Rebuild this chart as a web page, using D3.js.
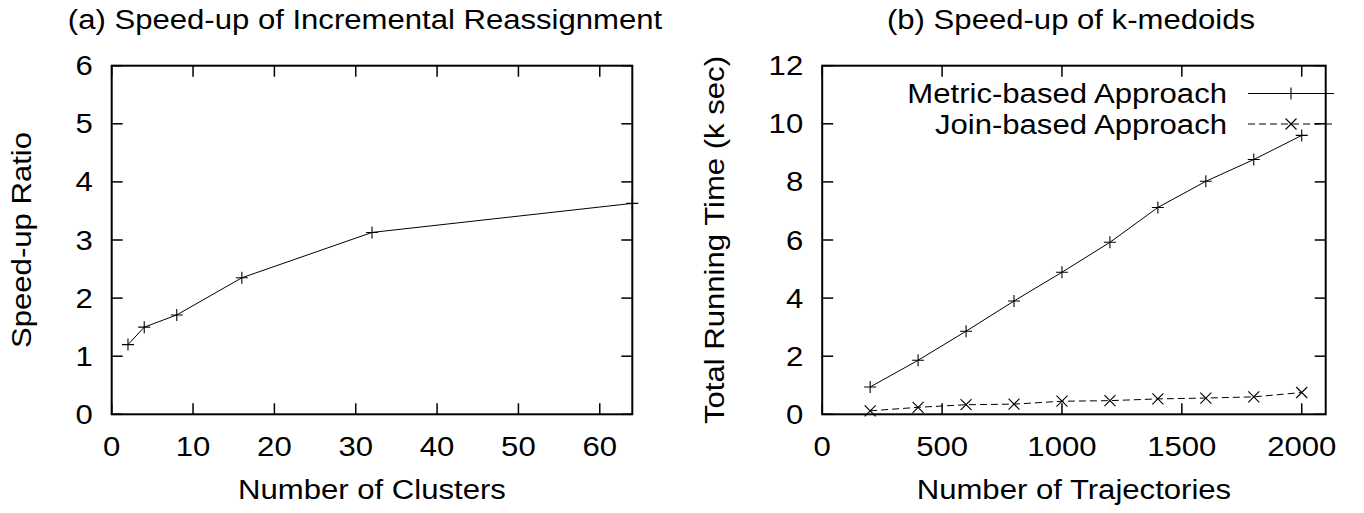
<!DOCTYPE html>
<html>
<head>
<meta charset="utf-8">
<script src="https://cdn.jsdelivr.net/npm/d3@7"></script>
<style>
  html, body { margin: 0; padding: 0; background: #fff; }
  svg { display: block; }
  text { font-family: "Liberation Sans", Arial, Helvetica, sans-serif; fill: #000; }
</style>
</head>
<body>
<svg id="chart" width="1364" height="513"></svg>
<script>
// ---------- data ----------
const clusters = [2, 4, 8, 16, 32, 64];
const speedup = [1.2, 1.5, 1.71, 2.35, 3.13, 3.63];
const clusterTicks = [0, 10, 20, 30, 40, 50, 60];
const ratioTicks = [0, 1, 2, 3, 4, 5, 6];

const trajectories = [200, 400, 600, 800, 1000, 1200, 1400, 1600, 1800, 2000];
const metricBased = [0.94, 1.86, 2.86, 3.9, 4.89, 5.92, 7.12, 8.02, 8.77, 9.6];
const joinBased = [0.12, 0.24, 0.33, 0.35, 0.45, 0.47, 0.53, 0.56, 0.6, 0.75];
const trajTicks = [0, 500, 1000, 1500, 2000];
const timeTicks = [0, 2, 4, 6, 8, 10, 12];

const seriesNames = ["Metric-based Approach", "Join-based Approach"];
const titles = ["(a) Speed-up of Incremental Reassignment", "(b) Speed-up of k-medoids"];
const xLabels = ["Number of Clusters", "Number of Trajectories"];
const yLabels = ["Speed-up Ratio", "Total Running Time (k sec)"];

// ---------- layout ----------
const FS = 26.8, STRETCH = 1.16, TICK = 11;
const svg = d3.select("#chart");

function stretch(sel) {
  sel.each(function () {
    const L = this.getComputedTextLength();
    d3.select(this).attr("textLength", L * STRETCH).attr("lengthAdjust", "spacingAndGlyphs");
  });
  return sel;
}
function txt(g, s, x, y, anchor, rot) {
  const t = g.append("text").attr("font-size", FS).attr("text-anchor", anchor).text(s);
  if (rot) t.attr("transform", `translate(${x},${y}) rotate(-90)`);
  else t.attr("x", x).attr("y", y);
  stretch(t);
  return t;
}
function plus(g, x, y, r) {
  g.append("path").attr("d", `M${x - r},${y}H${x + r}M${x},${y - r}V${y + r}`)
    .attr("stroke", "#000").attr("stroke-width", 1.1).attr("fill", "none");
}
function cross(g, x, y, r) {
  g.append("path").attr("d", `M${x - r},${y - r}L${x + r},${y + r}M${x - r},${y + r}L${x + r},${y - r}`)
    .attr("stroke", "#000").attr("stroke-width", 1.1).attr("fill", "none");
}

function panel(cfg) {
  const { x0, x1, y0, y1, xDom, yDom, xTicks, yTicks, title, titleX, xLabel, yLabel, yLabelX } = cfg;
  const g = svg.append("g");
  const x = d3.scaleLinear().domain(xDom).range([x0, x1]);
  const y = d3.scaleLinear().domain(yDom).range([y1, y0]);

  // ticks (inward, mirrored)
  const tg = g.append("g").attr("stroke", "#000").attr("stroke-width", 1.5);
  xTicks.forEach(v => {
    tg.append("line").attr("x1", x(v)).attr("x2", x(v)).attr("y1", y1).attr("y2", y1 - TICK);
    tg.append("line").attr("x1", x(v)).attr("x2", x(v)).attr("y1", y0).attr("y2", y0 + TICK);
  });
  yTicks.forEach(v => {
    tg.append("line").attr("y1", y(v)).attr("y2", y(v)).attr("x1", x0).attr("x2", x0 + TICK);
    tg.append("line").attr("y1", y(v)).attr("y2", y(v)).attr("x1", x1).attr("x2", x1 - TICK);
  });
  // frame
  g.append("rect").attr("x", x0).attr("y", y0).attr("width", x1 - x0).attr("height", y1 - y0)
    .attr("fill", "none").attr("stroke", "#000").attr("stroke-width", 2);

  // tick labels
  xTicks.forEach(v => txt(g, String(v), x(v), y1 + 42, "middle"));
  yTicks.forEach(v => txt(g, String(v), x0 - 19, y(v) + 9.5, "end"));

  // titles
  txt(g, title, titleX, 29, "middle");
  txt(g, xLabel, (x0 + x1) / 2, 499, "middle");
  txt(g, yLabel, yLabelX, (y0 + y1) / 2, "middle", true);
  return { g, x, y };
}

// ---------- panel (a) ----------
const A = panel({
  x0: 111.7, x1: 632.3, y0: 65.7, y1: 414.3,
  xDom: [0, 64], yDom: [0, 6], xTicks: clusterTicks, yTicks: ratioTicks,
  title: titles[0], titleX: 365, xLabel: xLabels[0], yLabel: yLabels[0], yLabelX: 31
});
const lineA = d3.line().x((d, i) => A.x(clusters[i])).y(d => A.y(d));
A.g.append("path").datum(speedup).attr("d", lineA)
  .attr("fill", "none").attr("stroke", "#000").attr("stroke-width", 1);
speedup.forEach((v, i) => plus(A.g, A.x(clusters[i]), A.y(v), 6));

// ---------- panel (b) ----------
const B = panel({
  x0: 822.2, x1: 1325.7, y0: 65.7, y1: 414.3,
  xDom: [0, 2100], yDom: [0, 12], xTicks: trajTicks, yTicks: timeTicks,
  title: titles[1], titleX: 1071, xLabel: xLabels[1], yLabel: yLabels[1], yLabelX: 724
});
const lineB = vals => d3.line().x((d, i) => B.x(trajectories[i])).y(d => B.y(d))(vals);
B.g.append("path").attr("d", lineB(metricBased))
  .attr("fill", "none").attr("stroke", "#000").attr("stroke-width", 1);
metricBased.forEach((v, i) => plus(B.g, B.x(trajectories[i]), B.y(v), 6));
B.g.append("path").attr("d", lineB(joinBased))
  .attr("fill", "none").attr("stroke", "#000").attr("stroke-width", 1).attr("stroke-dasharray", "7,4");
joinBased.forEach((v, i) => cross(B.g, B.x(trajectories[i]), B.y(v), 5.5));

// legend
const legY = [93.5, 124];
const lx0 = 1248, lx1 = 1334, lm = 1291, ltx = 1227;
seriesNames.forEach((name, i) => {
  txt(B.g, name, ltx, legY[i] + 9.5, "end");
  const ln = B.g.append("line").attr("x1", lx0).attr("x2", lx1).attr("y1", legY[i]).attr("y2", legY[i])
    .attr("stroke", "#000").attr("stroke-width", 1);
  if (i === 1) { ln.attr("stroke-dasharray", "7,4"); cross(B.g, lm, legY[i], 5.5); }
  else plus(B.g, lm, legY[i], 6);
});
</script>
</body>
</html>
